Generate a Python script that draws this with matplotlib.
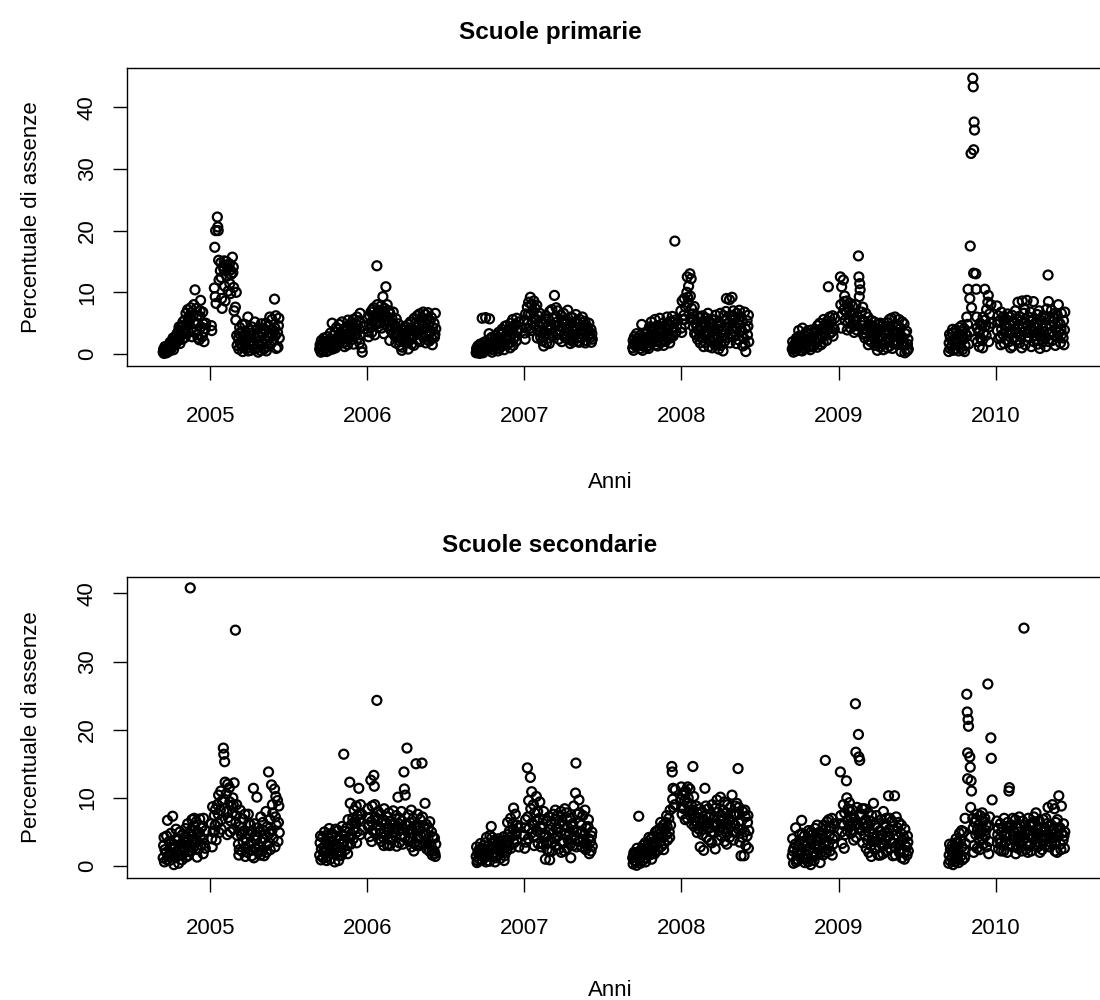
import matplotlib
matplotlib.use("Agg")
import matplotlib.pyplot as plt
import matplotlib.dates as mdates
import pandas as pd
from datetime import datetime

plt.rcParams['font.family'] = ['Liberation Sans', 'DejaVu Sans']

# ---------------- data ----------------
year_ticks = ['2005', '2006', '2007', '2008', '2009', '2010']
# first Monday of each school year; each row = one school week (Mon, Tue, Thu, Fri values)
school_year_starts = ['2004-09-13', '2005-09-12', '2006-09-11',
                      '2007-09-10', '2008-09-15', '2009-09-14']
DAY_OFFSETS = [0, 1, 3, 4, 2, 2]
MID_OFFSET = 2  # Wednesday values kept in the *_mid lists

prim_2005 = [[0.3, 0.8, 0.5, 1.2], [0.6, 0.2, 1.0, 0.4], [1.0, 0.5, 1.5, 0.8], [1.2, 2.0, 0.7, 1.6],
             [1.5, 2.8, 1.9, 3.3], [2.2, 3.8, 2.9, 1.7], [3.0, 4.6, 2.4, 5.2], [3.6, 5.5, 4.1, 6.6],
             [4.8, 7.2, 3.5, 6.0], [5.6, 7.5, 4.2, 2.8], [6.3, 8.0, 4.9, 10.4], [5.0, 7.4, 3.1, 2.6],
             [2.3, 6.1, 8.7, 4.4], [2.8, 6.8, 3.6, 2.0], [4.1, 5.0], [], [4.6, 3.8],
             [10.7, 17.3, 20.0, 8.2], [22.2, 20.6, 15.2, 12.0], [13.5, 14.8, 9.0, 7.4],
             [14.2, 13.8, 11.0, 8.6], [15.0, 12.6, 13.9, 10.2], [14.6, 11.4, 9.8, 12.9],
             [15.7, 13.2, 10.8, 7.0], [7.6, 5.5, 3.0, 1.4], [2.5, 0.8, 4.3, 1.8], [3.6, 1.2, 0.4, 2.7],
             [1.9, 4.8, 3.0, 0.9], [2.4, 6.0, 1.5, 3.9], [0.6, 2.2, 4.4, 1.3], [3.1, 1.7, 5.2, 2.6],
             [1.0, 4.0, 2.0, 0.3], [2.8, 1.4, 3.6, 4.9], [1.6, 3.2, 0.8, 2.4], [3.8, 5.0, 2.1, 1.2],
             [4.5, 2.9, 6.0, 3.4], [1.8, 5.6, 3.0, 2.2], [8.9, 4.2, 6.2, 0.9], [3.5, 1.1, 5.8, 2.6]]
prim_2005_mid = [0.1, 0.9, 1.9, 2.6, 2.2, 4.4, 3.8, 2.7, 5.4, 6.7, 3.6, 6.2, 7.0, 4.9, None, None, None,
                 9.3, 20.0, 12.4, 15.1, 14.4, 13.6, 14.1, 10.0, 3.3, 4.8, 2.2, 0.5, 3.4, 0.8, 3.0, 0.6,
                 4.2, 0.5, 1.5, 4.0, 3.0, 4.6]
prim_2006 = [[0.8, 1.5, 0.3, 2.2], [1.1, 0.5, 2.6, 1.7], [1.9, 0.9, 1.4, 2.8], [0.6, 2.3, 1.2, 3.4],
             [2.0, 5.0, 1.5, 3.0], [1.3, 3.6, 2.4, 4.3], [2.7, 1.6, 4.8, 3.2], [3.5, 2.2, 5.2, 1.8],
             [2.9, 4.1, 1.9, 3.7], [4.4, 2.6, 5.5, 3.3], [3.0, 4.7, 2.3, 5.0], [3.8, 5.6, 2.8, 4.2],
             [4.9, 3.3, 6.0, 2.5], [5.4, 4.0, 6.6, 3.1], [1.0, 0.3, 4.5], [], [5.8, 3.6, 4.8, 6.2],
             [6.8, 4.4, 5.3, 7.2], [7.5, 5.6, 6.3, 4.8], [14.3, 8.0, 6.0, 7.1], [6.6, 5.0, 7.8, 4.2],
             [9.3, 6.9, 5.5, 7.4], [10.9, 6.2, 8.0, 4.6], [7.0, 5.3, 6.5, 3.9], [5.8, 4.4, 6.8, 3.2],
             [4.6, 2.8, 5.7, 3.5], [3.0, 4.9, 2.2, 1.4], [2.6, 4.0, 1.1, 3.3], [3.8, 1.9, 4.5, 2.7],
             [2.2, 3.6, 0.8, 4.8], [3.1, 5.2, 2.4, 1.6], [4.0, 2.9, 5.8, 3.6], [5.1, 3.4, 6.2, 2.3],
             [4.6, 6.5, 3.2, 5.4], [5.9, 3.9, 6.8, 2.6], [4.2, 6.4, 3.0, 5.6], [6.7, 4.8, 2.1, 5.2],
             [3.6, 5.9, 1.5, 4.3], [5.0, 2.7, 6.6, 4.1]]
prim_2006_mid = [1.2, 2.0, 0.4, 1.8, 0.8, 1.0, 4.0, 2.6, 1.2, 1.5, 3.9, 1.6, 4.1, 1.8, None, None,
                 2.8, 3.5, 3.1, 5.0, 6.0, 3.3, 5.6, 2.2, 5.0, 1.8, 3.7, 0.6, 3.0, 1.9, 4.2, 1.4, 4.4,
                 2.0, 4.8, 1.8, 3.4, 2.5, 3.2]
prim_2007 = [[0.2, 0.9, 0.5, 1.3], [0.7, 0.1, 1.1, 0.4], [5.8, 1.5, 0.6, 1.9], [1.0, 5.9, 2.1, 0.8],
             [1.6, 0.9, 5.7, 2.4], [1.2, 2.7, 0.7, 1.8], [2.0, 1.1, 3.0, 1.6], [2.5, 1.4, 3.5, 0.9],
             [1.8, 3.2, 2.2, 4.0], [3.4, 1.7, 2.8, 4.5], [2.2, 4.6, 1.6, 3.6], [4.0, 2.7, 5.0, 1.9],
             [3.2, 5.6, 2.5, 4.4], [4.8, 2.9, 5.8, 3.6], [3.9, 5.2], [], [5.5, 3.4, 6.5, 4.2],
             [7.6, 5.0, 8.4, 4.1], [9.2, 6.4, 8.0, 5.2], [6.9, 8.6, 4.6, 7.4], [5.6, 7.9, 3.8, 6.2],
             [4.4, 6.6, 2.7, 5.3], [2.1, 5.0, 1.3, 3.7], [3.3, 6.2, 1.8, 4.5], [5.7, 2.6, 6.9, 3.9],
             [4.2, 7.2, 2.9, 5.8], [9.5, 6.0, 3.6, 7.5], [5.2, 7.0, 2.4, 4.6], [3.8, 6.3, 2.0, 5.5],
             [6.6, 3.1, 4.8, 2.6], [2.9, 5.4, 7.1, 3.5], [4.7, 2.3, 6.0, 3.0], [5.9, 3.7, 2.5, 4.4],
             [3.2, 6.4, 4.1, 2.0], [4.9, 2.8, 5.6, 3.4], [2.6, 4.5, 3.8, 5.1], [3.6, 5.3, 2.2, 4.2],
             [4.4, 2.9, 5.0, 3.1], [2.7, 4.0, 3.3, 2.4]]
prim_2007_mid = [0.4, 1.6, 0.2, 1.4, 3.3, 0.3, 2.4, 0.5, 1.2, 0.7, 3.0, 1.0, 1.4, 2.1, None, None,
                 2.4, 6.4, 3.8, 5.8, 2.6, 3.6, 2.8, 5.2, 1.7, 3.4, 4.6, 3.2, 4.4, 5.5, 4.2, 1.7, 2.0,
                 5.3, 1.9, 6.0, 1.8, 3.8, 1.9]
prim_2008 = [[1.0, 2.2, 1.6, 2.8], [1.8, 1.2, 2.5, 1.4], [2.6, 1.5, 3.0, 0.9], [4.8, 2.0, 1.3, 2.7],
             [1.6, 3.3, 2.2, 1.1], [3.5, 1.4, 2.9, 4.4], [2.3, 5.2, 1.8, 3.6], [4.1, 2.5, 5.6, 1.5],
             [3.0, 4.6, 2.0, 3.8], [5.8, 2.8, 4.2, 1.9], [3.4, 5.0, 2.4, 4.5], [2.1, 4.0, 6.0, 3.2],
             [4.8, 3.0, 5.3, 2.6], [3.7, 6.1, 2.9, 4.4], [18.3, 5.5, 3.6], [], [7.0, 4.2, 8.6, 5.6],
             [6.3, 9.0, 4.8, 7.6], [10.0, 12.5, 8.3, 11.0], [13.0, 9.4, 12.2, 7.4], [6.5, 4.4, 7.7, 3.3],
             [5.0, 3.1, 6.2, 2.4], [3.8, 6.0, 1.8, 4.6], [2.7, 5.2, 3.4, 1.2], [4.3, 1.9, 5.8, 3.0],
             [6.6, 3.5, 2.2, 4.9], [2.0, 4.4, 1.0, 3.6], [5.5, 2.8, 4.0, 6.3], [3.2, 1.5, 5.0, 0.8],
             [4.6, 6.6, 2.6, 3.9], [0.5, 3.0, 5.4, 2.1], [6.9, 9.0, 4.4, 2.7], [5.1, 8.8, 3.3, 6.2],
             [9.2, 4.2, 7.0, 2.8], [3.6, 5.8, 1.7, 6.6], [4.9, 2.3, 7.1, 3.7], [6.0, 3.9, 5.2, 1.3],
             [2.5, 6.8, 4.1, 0.4], [5.4, 3.1, 6.3, 2.0]]
prim_2008_mid = [0.6, 3.3, 2.2, 0.6, 2.7, 0.9, 4.2, 3.3, 1.3, 3.5, 1.4, 4.8, 1.8, 5.2, None, None,
                 3.5, 5.6, 9.2, 5.8, 5.6, 4.4, 2.8, 6.2, 4.8, 1.2, 5.6, 1.5, 4.0, 1.4, 6.2, 5.6, 1.8,
                 5.6, 4.4, 5.5, 2.9, 1.6, 4.5]
prim_2009 = [[0.8, 2.0, 0.3, 1.4], [1.6, 0.5, 2.6, 1.0], [2.2, 3.8, 1.2, 0.6], [1.4, 2.8, 4.2, 1.9],
             [3.0, 0.9, 2.0, 3.5], [1.8, 3.2, 1.1, 2.5], [0.7, 2.4, 3.9, 1.6], [2.9, 1.3, 2.2, 4.0],
             [3.6, 1.9, 4.6, 2.7], [2.4, 5.0, 3.1, 1.5], [4.2, 2.8, 5.6, 3.4], [3.0, 4.8, 2.2, 5.3],
             [10.9, 4.4, 6.0, 3.3], [5.2, 3.6, 6.2, 2.9], [4.0, 5.8], [], [12.5, 8.0, 10.9, 6.4],
             [12.0, 7.2, 9.4, 5.5], [6.8, 8.6, 5.0, 7.6], [5.7, 7.0, 4.2, 6.3], [7.8, 4.8, 6.6, 3.5],
             [5.4, 8.0, 3.9, 6.1], [15.9, 12.5, 11.4, 10.4, 9.3], [6.8, 4.6, 7.6, 3.2],
             [5.3, 2.6, 6.6, 4.1], [3.8, 6.0, 2.3, 4.8], [4.6, 2.0, 5.4, 3.1], [2.7, 4.4, 1.4, 3.6],
             [3.4, 1.8, 4.9, 2.5], [1.2, 3.0, 2.1, 4.0], [2.8, 4.6, 1.6, 3.5], [3.9, 2.2, 5.1, 1.0],
             [2.4, 3.6, 1.3, 4.4], [5.8, 2.9, 3.8, 1.7], [3.1, 6.0, 2.0, 4.7], [1.5, 3.4, 5.6, 2.6],
             [4.2, 0.4, 2.8, 5.2], [2.0, 4.9, 0.2, 3.3], [3.7, 0.5, 2.4, 0.8]]
prim_2009_mid = [1.1, 2.1, 2.9, 0.5, 1.4, 3.8, 1.2, 3.4, 1.1, 3.9, 1.9, 3.8, 4.9, 4.4, None, None,
                 4.2, 8.5, 3.9, 8.2, 5.6, 4.6, None, 5.5, 3.4, 1.5, 3.9, 5.2, 0.6, 5.0, 0.7, 4.4, 5.6,
                 0.9, 3.6, 4.5, 1.6, 1.4, 1.6]
prim_2010 = [[0.4, 1.8, 0.9, 2.6], [1.3, 3.4, 0.6, 2.0], [2.5, 0.8, 3.9, 1.5], [3.0, 1.6, 2.2, 4.3],
             [1.1, 2.9, 3.6, 0.7], [2.4, 4.1, 1.4, 3.3], [6.0, 3.0, 10.5, 1.6], [9.0, 17.5, 32.5, 7.5],
             [44.7, 43.3, 37.6, 36.3, 33.1, 13.1], [13.0, 10.5, 4.2, 2.0], [3.5, 1.2, 5.0, 2.6],
             [4.6, 2.2, 6.0, 3.4], [10.5, 5.5, 3.0, 7.2], [8.4, 9.5, 4.4, 6.5], [8.0, 5.0], [],
             [7.8, 3.8, 6.2, 2.5], [5.4, 2.8, 6.8, 4.0], [3.2, 6.0, 1.7, 4.8], [5.6, 2.3, 4.4, 6.5],
             [2.0, 4.9, 3.4, 1.0], [6.3, 3.7, 5.2, 2.6], [4.1, 7.0, 2.2, 5.6], [8.4, 3.3, 6.1, 1.8],
             [2.8, 5.4, 8.6, 4.3], [6.6, 3.6, 1.5, 5.0], [8.7, 4.6, 2.7, 6.0], [3.9, 6.8, 1.2, 5.3],
             [5.6, 8.5, 3.0, 4.4], [2.4, 4.9, 6.4, 1.6], [7.0, 3.5, 5.5, 2.9], [4.2, 1.9, 6.2, 3.6],
             [5.8, 2.6, 4.5, 7.3], [12.8, 8.5, 3.4, 6.0], [4.6, 7.1, 2.2, 5.2], [3.0, 5.7, 1.4, 4.0],
             [6.4, 2.8, 8.0, 3.6], [4.9, 1.8, 6.6, 3.2], [2.6, 5.4, 3.9, 6.8]]
prim_2010_mid = [3.2, 4.0, 2.2, 0.5, 4.6, 0.4, 4.8, 3.6, None, 6.0, 3.8, 1.0, 4.6, 2.0, None, None,
                 5.2, 1.5, 5.4, 3.5, 6.0, 1.3, 3.4, 4.8, 1.0, 7.2, 3.5, 4.4, 2.0, 3.6, 0.9, 5.0, 1.2,
                 2.0, 3.6, 6.6, 5.0, 4.0, 1.5]

sec_2005 = [[1.2, 3.0, 0.6, 2.4], [2.0, 4.4, 6.7, 1.4], [3.6, 0.8, 2.7, 4.8], [1.7, 7.3, 3.2, 0.2],
            [2.9, 1.2, 4.0, 2.2], [3.8, 0.4, 2.5, 5.0], [1.6, 3.3, 4.6, 2.0], [4.2, 2.6, 5.5, 1.3],
            [3.0, 6.2, 2.1, 4.7], [40.8, 5.2, 3.6, 6.8], [4.4, 2.8, 5.9, 3.5], [6.5, 3.7, 5.0, 2.4],
            [4.9, 6.9, 3.1, 5.6], [5.8, 4.0, 7.0, 3.3], [2.6, 5.2], [], [6.2, 4.0, 8.7, 5.0],
            [7.4, 5.2, 8.3, 3.8], [9.0, 6.3, 10.4, 4.9], [8.2, 11.0, 6.8, 9.6], [17.3, 16.4, 15.3, 12.3],
            [10.6, 8.0, 12.0, 7.1], [11.5, 9.4, 6.6, 8.8], [7.8, 10.0, 5.4, 12.2], [34.6, 6.4, 9.0, 4.5],
            [3.2, 1.6, 5.8, 8.2], [4.6, 2.2, 6.9, 3.6], [5.2, 7.6, 2.8, 4.0], [2.0, 4.8, 6.3, 3.0],
            [6.0, 3.4, 1.5, 5.1], [11.4, 1.2, 4.4, 2.6], [3.8, 10.1, 5.6, 2.0], [5.0, 2.9, 7.2, 3.6],
            [2.2, 6.4, 4.0, 1.5], [4.7, 8.0, 3.0, 5.8], [13.8, 3.4, 6.8, 2.4], [11.9, 5.2, 7.8, 4.1],
            [11.3, 2.8, 10.2, 6.0], [9.6, 3.6, 8.8, 4.9]]
sec_2005_mid = [4.2, 0.9, 1.9, 2.5, 5.4, 1.7, 0.9, 3.6, 1.5, 2.2, 7.0, 1.3, 4.2, 1.8, None, None,
                2.8, 6.0, 7.6, 5.4, 9.8, 4.6, 5.0, 9.0, 7.4, 2.4, 5.0, 1.4, 7.6, 2.3, 6.2, 4.4, 1.6,
                5.2, 2.0, 4.8, 9.0, 7.2, 6.4]
sec_2006 = [[1.6, 3.4, 0.9, 2.5], [4.2, 1.2, 2.8, 5.0], [2.0, 3.7, 1.4, 4.6], [3.1, 5.5, 2.3, 1.0],
            [4.8, 1.8, 3.5, 2.6], [0.6, 3.0, 4.4, 1.9], [2.7, 5.2, 1.5, 3.8], [4.0, 2.2, 5.8, 3.2],
            [16.4, 3.6, 5.1, 2.4], [5.6, 3.0, 6.8, 4.2], [12.3, 9.2, 4.7, 6.1], [7.0, 4.0, 8.2, 5.4],
            [6.3, 8.8, 5.0, 7.4], [11.4, 6.8, 4.6, 9.0], [7.6, 5.3], [], [8.4, 5.8, 7.0, 4.3],
            [12.6, 6.5, 8.8, 5.2], [13.3, 11.7, 7.2, 4.8], [24.3, 6.0, 8.0, 4.0], [5.4, 7.6, 3.6, 6.4],
            [6.8, 4.2, 8.4, 5.0], [4.5, 6.3, 3.1, 7.2], [7.8, 5.6, 4.0, 6.6], [3.8, 6.0, 8.1, 4.9],
            [6.2, 4.4, 7.4, 2.9], [10.1, 5.2, 3.4, 7.0], [4.6, 8.0, 5.5, 3.2], [13.8, 11.3, 10.4, 6.0],
            [17.3, 5.0, 7.5, 3.6], [6.4, 4.1, 8.2, 2.8], [4.8, 7.0, 3.3, 5.8], [15.0, 6.0, 4.2, 7.6],
            [5.2, 3.0, 6.8, 4.4], [15.1, 7.2, 4.6, 5.9], [9.2, 3.4, 6.1, 2.5], [4.0, 5.6, 2.2, 6.5],
            [3.0, 5.0, 1.6, 4.3], [2.2, 4.1, 1.4, 3.2]]
sec_2006_mid = [4.4, 2.0, 0.8, 4.0, 3.0, 5.4, 0.8, 1.6, 4.4, 1.8, 3.2, 6.4, 3.4, 7.6, None, None,
                6.0, 3.6, 9.0, 6.8, 4.8, 3.0, 5.4, 3.0, 5.5, 5.6, 6.2, 6.6, 4.2, 6.0, 5.4, 2.2, 3.0,
                5.8, 3.2, 4.8, 3.2, 2.2, 1.8]
sec_2007 = [[1.4, 2.8, 0.8, 2.0], [2.4, 1.0, 3.3, 1.7], [0.9, 2.2, 1.5, 3.0], [3.4, 1.3, 4.2, 2.1],
            [1.8, 3.0, 0.7, 4.5], [5.8, 2.6, 1.4, 3.5], [2.0, 3.8, 1.2, 2.7], [3.2, 1.6, 4.0, 2.4],
            [1.1, 2.9, 3.6, 1.9], [2.6, 4.3, 1.5, 3.1], [3.8, 2.2, 6.4, 4.6], [5.1, 3.0, 7.0, 2.6],
            [4.4, 6.2, 8.5, 3.4], [7.6, 5.0, 3.7, 6.0], [5.6, 2.8], [], [4.5, 2.6, 6.8, 3.5],
            [14.4, 7.2, 9.6, 5.5], [13.0, 8.4, 10.9, 6.3], [9.0, 6.0, 7.8, 4.4], [10.2, 5.2, 8.0, 3.3],
            [7.0, 9.4, 4.8, 2.8], [5.8, 3.2, 8.0, 4.2], [1.0, 4.6, 6.6, 2.4], [3.6, 7.2, 0.9, 5.3],
            [6.1, 2.2, 4.8, 7.6], [4.0, 6.8, 3.0, 5.5], [7.4, 4.4, 2.5, 6.2], [5.0, 8.0, 3.5, 6.6],
            [3.4, 6.0, 8.4, 4.6], [7.8, 2.6, 5.6, 3.8], [4.8, 7.0, 1.2, 5.9], [6.2, 3.0, 8.8, 4.4],
            [10.7, 15.1, 5.0, 7.6], [3.6, 9.7, 6.4, 4.8], [6.0, 2.8, 7.4, 3.9], [4.6, 8.2, 2.4, 5.6],
            [2.9, 5.8, 4.0, 1.8], [3.6, 2.2, 5.0, 2.9]]
sec_2007_mid = [0.5, 2.0, 2.6, 0.6, 2.4, 4.2, 0.6, 3.0, 2.4, 0.8, 3.0, 4.2, 5.4, 4.6, None, None,
                5.6, 4.0, 4.8, 3.0, 6.6, 5.8, 6.8, 3.4, 2.2, 3.5, 8.2, 5.4, 2.0, 2.2, 6.8, 3.2, 5.2,
                2.8, 7.8, 5.0, 3.4, 6.8, 4.4]
sec_2008 = [[1.2, 0.3, 2.0, 0.8], [1.8, 0.6, 2.6, 1.4], [7.3, 1.0, 2.2, 0.4], [2.5, 1.5, 3.0, 0.9],
            [1.9, 3.4, 1.2, 2.8], [3.0, 2.0, 4.2, 1.6], [2.4, 4.0, 1.8, 3.5], [4.4, 2.7, 3.6, 5.0],
            [3.2, 5.2, 2.3, 4.6], [5.5, 3.6, 4.8, 2.9], [4.2, 6.0, 3.3, 5.4], [6.4, 4.6, 5.8, 3.8],
            [7.0, 5.0, 8.2, 6.0], [14.6, 13.8, 11.4, 8.6], [9.0, 11.2], [], [9.8, 11.6, 7.6, 10.4],
            [8.4, 10.8, 6.8, 11.0], [9.2, 7.0, 10.0, 8.0], [11.3, 7.4, 9.0, 6.2], [14.6, 8.2, 5.8, 7.2],
            [6.6, 8.8, 4.9, 7.7], [5.4, 7.0, 2.8, 6.2], [8.0, 4.6, 6.8, 2.3], [11.4, 5.9, 7.4, 4.2],
            [6.4, 8.4, 3.8, 5.6], [7.6, 5.0, 9.0, 6.2], [4.8, 7.2, 2.5, 8.5], [9.7, 6.0, 7.9, 5.2],
            [6.6, 10.1, 4.4, 7.4], [8.2, 5.5, 9.4, 3.6], [5.0, 7.8, 6.2, 9.0], [7.0, 4.2, 8.6, 5.8],
            [10.4, 6.4, 3.8, 7.6], [6.0, 8.8, 4.9, 9.2], [14.3, 5.4, 7.6, 3.5], [1.5, 6.6, 4.2, 8.0],
            [1.5, 5.0, 7.2, 3.0], [4.4, 6.4, 2.6, 5.2]]
sec_2008_mid = [1.6, 0.1, 1.6, 2.0, 0.6, 2.6, 1.0, 1.8, 3.8, 6.4, 2.4, 7.4, 4.2, 9.8, None, None,
                8.6, 9.6, 11.6, 8.2, 10.2, 6.0, 8.4, 5.4, 8.8, 7.2, 3.4, 6.0, 3.8, 5.6, 7.0, 3.2, 6.6,
                5.0, 7.4, 8.6, 5.4, 8.2, 7.4]
sec_2009 = [[1.5, 4.0, 0.4, 2.6], [3.2, 5.6, 1.0, 2.0], [0.8, 2.8, 4.6, 1.6], [2.3, 6.7, 1.2, 3.6],
            [4.4, 0.5, 2.9, 1.8], [1.1, 3.4, 5.2, 2.4], [2.7, 0.2, 3.9, 1.4], [4.8, 2.0, 3.0, 5.5],
            [1.6, 3.8, 2.5, 4.2], [3.1, 5.0, 1.9, 4.0], [4.5, 2.6, 6.0, 3.3], [15.5, 5.4, 3.6, 6.5],
            [3.0, 6.8, 4.6, 2.2], [5.6, 7.0, 4.0, 3.2], [6.2, 4.3], [], [13.8, 7.4, 5.0, 3.3],
            [9.0, 6.0, 7.8, 4.6], [12.5, 10.0, 6.6, 8.4], [9.3, 5.8, 7.2, 4.8], [8.2, 6.4, 3.8, 7.0],
            [23.8, 16.7, 6.0, 8.6], [19.3, 16.0, 15.5, 7.4], [5.2, 7.6, 3.4, 6.2], [8.4, 4.4, 6.8, 2.6],
            [3.8, 6.0, 2.0, 5.0], [6.6, 3.0, 7.4, 4.2], [9.2, 4.8, 2.4, 6.0], [7.4, 3.6, 5.6, 1.6],
            [2.8, 5.2, 3.4, 6.8], [4.6, 1.8, 6.2, 3.0], [6.0, 3.8, 2.2, 5.0], [10.3, 4.4, 7.0, 2.6],
            [3.4, 6.6, 1.5, 5.2], [10.3, 2.8, 4.6, 7.2], [5.6, 3.2, 6.4, 2.0], [2.4, 4.8, 1.2, 3.8],
            [4.2, 2.0, 5.4, 3.0], [2.8, 1.6, 3.5, 2.2]]
sec_2009_mid = [2.2, 0.6, 3.6, 4.8, 3.6, 0.6, 5.0, 0.8, 6.0, 0.5, 1.6, 2.0, 5.6, 1.6, None, None,
                6.2, 2.6, 5.2, 8.0, 5.2, 4.2, 5.6, 8.4, 5.6, 7.8, 1.4, 3.6, 4.4, 1.6, 8.0, 7.0, 5.4,
                3.4, 1.6, 4.2, 6.0, 1.0, 4.4]
sec_2010 = [[0.4, 1.6, 0.8, 2.4], [1.2, 3.0, 0.2, 1.8], [2.6, 0.6, 4.0, 1.4], [1.0, 3.4, 2.0, 4.8],
            [3.8, 1.5, 2.8, 0.9], [5.0, 2.4, 7.0, 3.3], [25.2, 22.6, 21.5, 20.5, 16.6, 12.8],
            [16.0, 14.5, 12.5, 11.0, 8.6, 4.2], [7.0, 5.6, 3.0, 6.4], [4.6, 6.8, 2.6, 5.4],
            [6.0, 3.8, 7.4, 4.8], [5.2, 7.8, 3.2, 6.6], [7.0, 4.4, 6.0, 2.8], [26.7, 5.8, 3.6, 7.2],
            [18.8, 15.8, 9.7], [], [6.6, 3.4, 5.5, 2.5], [4.0, 6.2, 2.2, 5.0], [5.6, 3.0, 7.0, 4.4],
            [3.6, 5.8, 2.0, 6.4], [11.0, 11.5, 4.6, 3.2], [6.0, 2.8, 5.2, 3.8], [4.4, 6.8, 3.0, 5.6],
            [2.6, 5.0, 7.2, 3.6], [5.8, 3.2, 4.6, 6.6], [34.9, 4.0, 6.0, 2.4], [5.4, 3.4, 7.0, 4.6],
            [3.0, 5.8, 2.2, 6.2], [6.4, 4.2, 5.0, 3.0], [7.8, 3.6, 5.6, 2.8], [4.8, 6.6, 3.2, 5.4],
            [2.4, 5.0, 6.8, 3.8], [5.6, 3.0, 4.4, 6.2], [8.6, 4.6, 2.8, 5.8], [3.4, 6.0, 9.0, 4.2],
            [5.2, 8.4, 3.6, 6.4], [2.0, 6.8, 4.4, 10.3], [5.6, 3.2, 8.8, 4.8], [3.8, 6.2, 2.6, 5.0]]
sec_2010_mid = [3.2, 2.2, 3.4, 0.5, 5.2, 1.2, None, None, 2.0, 7.6, 2.4, 4.0, 5.2, 1.8, None, None,
                4.6, 3.4, 2.2, 4.6, 5.8, 7.0, 1.8, 4.4, 2.2, 5.0, 2.0, 4.2, 7.2, 4.6, 2.0, 4.4, 7.0,
                3.6, 5.2, 2.2, 5.6, 2.4, 4.4]

primarie = [(prim_2005, prim_2005_mid), (prim_2006, prim_2006_mid), (prim_2007, prim_2007_mid),
            (prim_2008, prim_2008_mid), (prim_2009, prim_2009_mid), (prim_2010, prim_2010_mid)]
secondarie = [(sec_2005, sec_2005_mid), (sec_2006, sec_2006_mid), (sec_2007, sec_2007_mid),
              (sec_2008, sec_2008_mid), (sec_2009, sec_2009_mid), (sec_2010, sec_2010_mid)]


def expand(start, weeks, mids):
    xs, ys = [], []
    monday = pd.Timestamp(start)
    for i, vals in enumerate(weeks):
        for j, v in enumerate(vals):
            xs.append(monday + pd.Timedelta(days=7 * i + DAY_OFFSETS[j]))
            ys.append(v)
        if i < len(mids) and mids[i] is not None:
            xs.append(monday + pd.Timedelta(days=7 * i + MID_OFFSET))
            ys.append(mids[i])
    return xs, ys


def build(series):
    X, Y = [], []
    for start, (weeks, mids) in zip(school_year_starts, series):
        xs, ys = expand(start, weeks, mids)
        X += xs
        Y += ys
    return X, Y


# ---------------- figure ----------------
fig = plt.figure(figsize=(11, 10), dpi=100)
ax1 = fig.add_axes([0.1155, 0.634, 0.8873, 0.298])
ax2 = fig.add_axes([0.1155, 0.122, 0.8873, 0.301])

xl = (mdates.date2num(datetime(2004, 6, 21)), mdates.date2num(datetime(2010, 9, 8)))
tick_pos = [mdates.date2num(datetime(int(y), 1, 1)) for y in year_ticks]

panels = [(ax1, primarie, (-1.94, 46.35), 'Scuole primarie', 0.967, 0.518),
          (ax2, secondarie, (-1.76, 42.4), 'Scuole secondarie', 0.455, 0.010)]

for ax, series, yl, title, ty, xly in panels:
    X, Y = build(series)
    ax.scatter(mdates.date2num(X), Y, s=42, facecolors='none', edgecolors='black',
               linewidths=1.6, zorder=3)
    ax.set_xlim(*xl)
    ax.set_ylim(*yl)
    ax.set_xticks(tick_pos)
    ax.set_xticklabels(year_ticks)
    ax.set_yticks([0, 10, 20, 30, 40])
    ax.set_yticklabels(['0', '10', '20', '30', '40'], rotation=90, va='center')
    ax.tick_params(axis='both', direction='out', length=10, width=1.0,
                   labelsize=16, colors='black')
    ax.tick_params(axis='x', pad=19)
    ax.tick_params(axis='y', pad=11)
    for sp in ax.spines.values():
        sp.set_linewidth(1.0)
    ax.spines['right'].set_visible(False)
    fig.text(0.5, ty, title, ha='center', va='center', fontsize=17.5, fontweight='bold')
    fig.text(0.555, xly, 'Anni', ha='center', va='center', fontsize=16)
    pos = ax.get_position()
    fig.text(0.029, (pos.y0 + pos.y1) / 2, 'Percentuale di assenze', rotation=90,
             ha='center', va='center', fontsize=16)

fig.savefig('out.png', dpi=100)
